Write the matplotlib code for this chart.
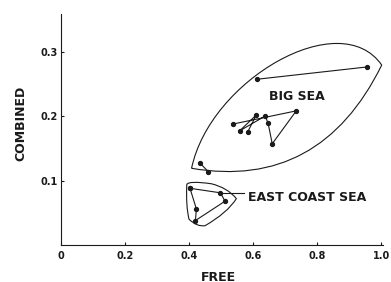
import numpy as np
import matplotlib.pyplot as plt
from matplotlib.path import Path
from matplotlib.patches import PathPatch

# Big Sea series (free, combined)
big_free = [0.584, 0.610, 0.558, 0.638, 0.647, 0.660, 0.735, 0.5375]
big_comb = [0.176, 0.2016, 0.177, 0.200, 0.189, 0.157, 0.208, 0.1876]
big_pair_free = [0.612, 0.955]
big_pair_comb = [0.257, 0.276]
big_low_free = [0.434, 0.460]
big_low_comb = [0.127, 0.114]

# East Coast Sea series
ec_free = [0.403, 0.423, 0.420, 0.5125, 0.498, 0.403]
ec_comb = [0.088, 0.056, 0.038, 0.068, 0.081, 0.088]

# envelope outlines (data coords, bezier control points)
big_env = [(0.408, 0.119), (0.4656, 0.2558), (0.8719, 0.3721), (1.002, 0.279),
           (0.8738, 0.1499), (0.6756, 0.0964), (0.408, 0.119)]
ec_env = [(0.393, 0.094), (0.400, 0.100), (0.470, 0.095), (0.520, 0.089),
          (0.548, 0.072), (0.520, 0.050), (0.450, 0.030), (0.425, 0.028),
          (0.400, 0.040), (0.390, 0.060), (0.393, 0.094)]

ink = '#1a1a1a'
plt.rcParams['font.family'] = ['DejaVu Sans']

fig = plt.figure(figsize=(3.91, 2.82), dpi=100)
ax = fig.add_axes([0.156, 0.131, 0.8235, 0.819])

ms = 2.8
ax.plot(big_free, big_comb, '-o', color=ink, lw=0.8, ms=ms)
ax.plot(big_pair_free, big_pair_comb, '-o', color=ink, lw=0.8, ms=ms)
ax.plot(big_low_free, big_low_comb, '-o', color=ink, lw=0.8, ms=ms)
ax.plot(ec_free, ec_comb, '-o', color=ink, lw=0.8, ms=ms)

codes = [Path.MOVETO] + [Path.CURVE4] * 6
ax.add_patch(PathPatch(Path(big_env, codes), fill=False, ec=ink, lw=0.8))
ec_codes = [Path.MOVETO] + [Path.CURVE3] * 10
ax.add_patch(PathPatch(Path(ec_env, ec_codes), fill=False, ec=ink, lw=0.8))

ax.plot([0.498, 0.572], [0.080, 0.080], color=ink, lw=0.8)
ax.text(0.737, 0.230, 'BIG SEA', fontsize=9, fontweight='bold', ha='center', va='center', color=ink)
ax.text(0.585, 0.073, 'EAST COAST SEA', fontsize=9, fontweight='bold', ha='left', va='center', color=ink)

ax.set_xlim(0, 1.006)
ax.set_ylim(0, 0.358)
ax.set_xticks([0, 0.2, 0.4, 0.6, 0.8, 1.0])
ax.set_xticklabels(['0', '0.2', '0.4', '0.6', '0.8', '1.0'])
ax.set_yticks([0.1, 0.2, 0.3])
ax.set_yticklabels(['0.1', '0.2', '0.3'])
ax.tick_params(direction='in', length=2, width=0.8, labelsize=7, colors=ink)
ax.tick_params(axis='x', pad=4)
ax.tick_params(axis='y', pad=2)
for lab in ax.get_xticklabels() + ax.get_yticklabels():
    lab.set_fontweight('bold')
ax.spines['top'].set_visible(False)
ax.spines['right'].set_visible(False)
for s in ['left', 'bottom']:
    ax.spines[s].set_color(ink)
    ax.spines[s].set_linewidth(0.8)

ax.set_xlabel('FREE', fontsize=9, fontweight='bold', color=ink)
ax.set_ylabel('COMBINED', fontsize=9, fontweight='bold', color=ink)
ax.xaxis.set_label_coords(0.49, -0.1385)
ax.yaxis.set_label_coords(-0.125, 0.528)
ax.xaxis.label.set_va('center')
ax.yaxis.label.set_va('center')

fig.savefig('out.png', dpi=100)
